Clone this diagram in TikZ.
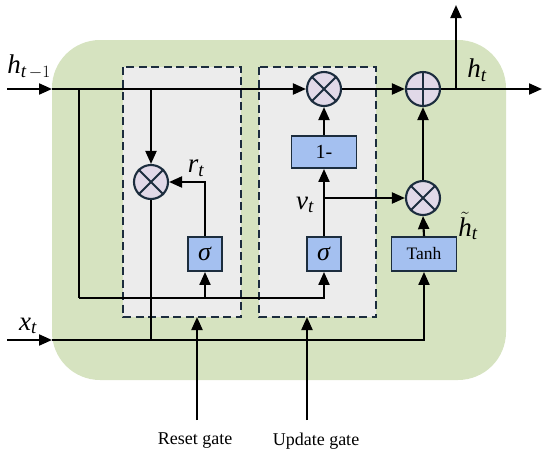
\documentclass[tikz,border=0pt]{standalone}
\usepackage{amsmath}
\usepackage{fontspec}
\setmainfont{Liberation Serif}
\usetikzlibrary{arrows.meta}
\definecolor{bggreen}{RGB}{214,227,192}
\definecolor{gatefill}{RGB}{236,236,236}
\definecolor{navy}{RGB}{28,45,62}
\definecolor{boxblue}{RGB}{164,192,240}
\definecolor{opfill}{RGB}{225,217,232}
\newcommand{\vi}[1]{\textit{#1}}
\tikzset{
  x=1pt, y=-1pt,
  conn/.style={line width=2.1pt, -{Triangle[length=13pt,width=11pt]}},
  plain/.style={line width=2.1pt},
  gatebox/.style={draw=navy, fill=gatefill, line width=2.4pt, dash pattern=on 8pt off 4.5pt},
  opbox/.style={draw=navy, fill=boxblue, line width=1.9pt, inner sep=0pt},
  opcirc/.style={circle, draw=navy, fill=opfill, line width=2.1pt, minimum size=34pt, inner sep=0pt},
  varlabel/.style={font=\fontsize{27}{28}\selectfont, inner sep=0pt},
  gatelabel/.style={font=\fontsize{18}{20}\selectfont, inner sep=0pt}
}
\begin{document}
\begin{tikzpicture}
\useasboundingbox (0,0) rectangle (550,459);
% background
\fill[bggreen, rounded corners=48pt] (52,40) rectangle (506,380);
% gate boxes
\draw[gatebox] (123,67) rectangle (241,317);
\draw[gatebox] (259,67) rectangle (376,317);
\coordinate (resetb) at (197,317);
\coordinate (updateb) at (307,317);

% operation nodes
\node[opbox, minimum width=34pt, minimum height=34pt] (sigR) at (205,254) {\fontsize{26}{26}\selectfont\textit{σ}};
\node[opbox, minimum width=34pt, minimum height=34pt] (sigU) at (324,254) {\fontsize{26}{26}\selectfont\textit{σ}};
\node[opbox, minimum width=65pt, minimum height=34pt] (tanh) at (424,254) {\fontsize{17.5}{18}\selectfont Tanh};
\node[opbox, minimum width=65pt, minimum height=32pt] (onem) at (324,152) {\fontsize{20}{20}\selectfont 1-};
\node[opcirc] (mulR) at (151,182) {};
\node[opcirc] (mulT) at (324,89) {};
\node[opcirc] (mulL) at (423,198) {};
\node[opcirc] (add) at (423,89) {};
\foreach \n in {mulR,mulT,mulL}{
  \draw[navy, line width=1.9pt] (\n.north west) -- (\n.south east) (\n.north east) -- (\n.south west);
}
\draw[navy, line width=1.9pt] (add.north) -- (add.south) (add.west) -- (add.east);

% coordinates
\coordinate (hin) at (7,89);
\coordinate (hedge) at (52,89);
\coordinate (xin) at (7,340);
\coordinate (xedge) at (52,340);
\coordinate (hsplit1) at (79,89);
\coordinate (hsplit2) at (151,89);
\coordinate (lowL) at (79,298);
\coordinate (lowR) at (205,298);
\coordinate (rjoin) at (151,340);
\coordinate (vsplit) at (324,198);
\coordinate (hout) at (542,89);
\coordinate (hup0) at (456,89);
\coordinate (hup) at (456,5);
\coordinate (rg0) at (197,420);
\coordinate (ug0) at (307,420);

% connectors
\draw[conn] (hin) -- (hedge);
\draw[conn] (hedge) -- (mulT.west);
\draw[plain] (hsplit1) -- (lowL);
\draw[conn] (lowL) -| (sigU.south);
\draw[conn] (lowR) -- (sigR.south);
\draw[conn] (hsplit2) -- (mulR.north);
\draw[conn] (sigR.north) |- (mulR.east);
\draw[plain] (mulR.south) -- (rjoin);
\draw[conn] (xin) -- (xedge);
\draw[conn] (xedge) -| (tanh.south);
\draw[conn] (sigU.north) -- (onem.south);
\draw[conn] (vsplit) -- (mulL.west);
\draw[conn] (onem.north) -- (mulT.south);
\draw[conn] (mulT.east) -- (add.west);
\draw[conn] (tanh.north) -- (mulL.south);
\draw[conn] (mulL.north) -- (add.south);
\draw[conn] (add.east) -- (hout);
\draw[conn] (hup0) -- (hup);
\draw[conn] (rg0) -- (resetb);
\draw[conn] (ug0) -- (updateb);

% labels
\node[varlabel] (lh) at (29,67) {\vi{h}$_{\textit{t}\,-1}$};
\node[varlabel] (lx) at (28,326) {\vi{x}$_{\textit{t}}$};
\node[varlabel] (lr) at (196,168) {\vi{r}$_{\textit{t}}$};
\node[varlabel] (lv) at (305,205) {\vi{v}$_{\textit{t}}$};
\node[varlabel] (lht) at (468,226) {$\tilde{\text{\itshape h}}_{\textit{t}}$};
\node[varlabel] (lhout) at (477,70) {\vi{h}$_{\textit{t}}$};
\node[gatelabel] (rg) at (195,441) {Reset gate};
\node[gatelabel] (ug) at (316,441) {Update gate};
\end{tikzpicture}
\end{document}
